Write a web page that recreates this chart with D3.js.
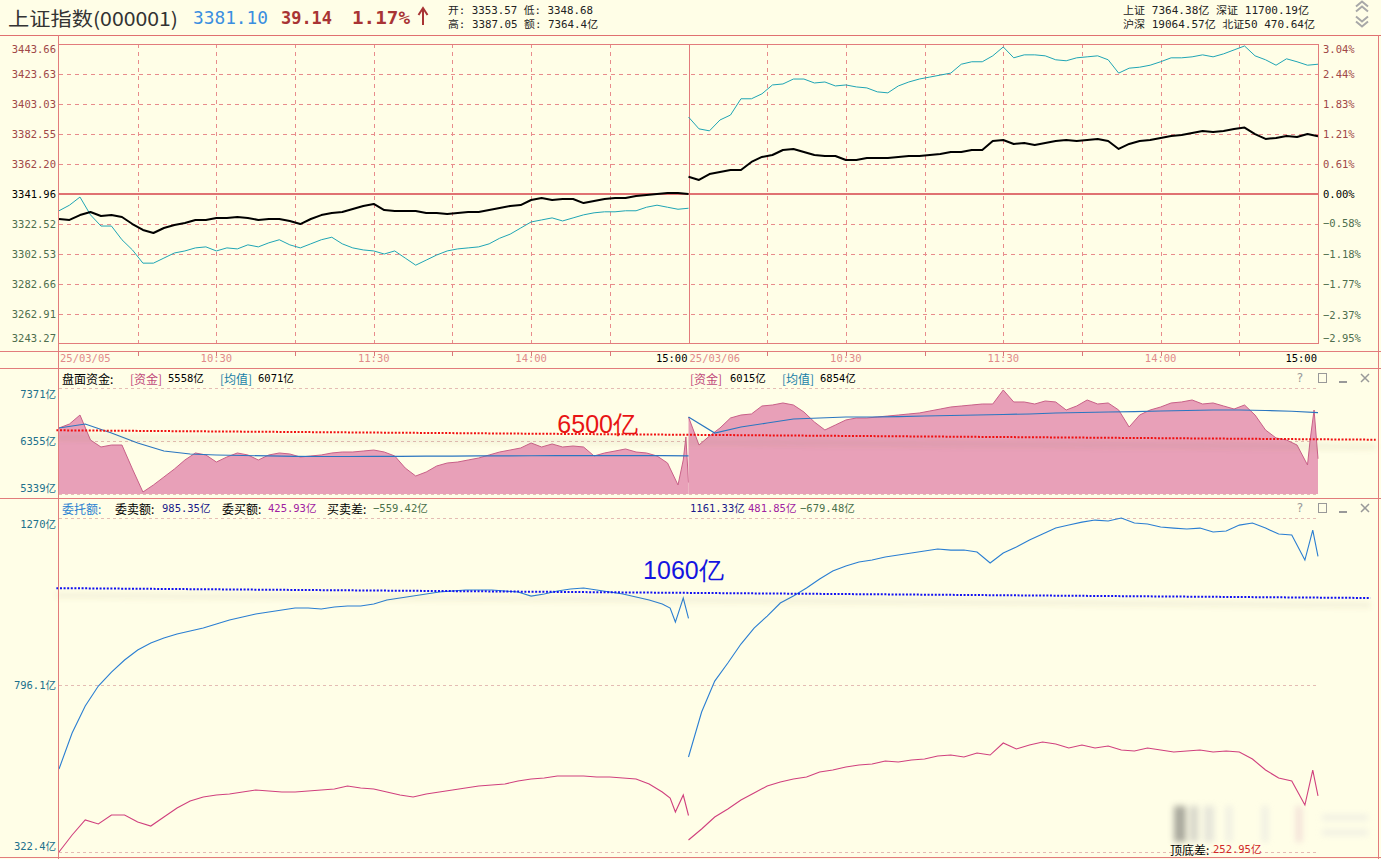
<!DOCTYPE html>
<html><head><meta charset="utf-8">
<script src="https://cdn.jsdelivr.net/npm/d3@7"></script>
<style>html,body{margin:0;padding:0;background:#FFFEE7;} svg{display:block}</style>
</head><body>
<svg id="c" width="1381" height="859"></svg>
<script>
// ---------------- DATA ----------------
const dayLabels = ["25/03/05", "25/03/06"];
const timeLabels = ["10:30", "11:30", "14:00", "15:00"];
const prevClose = 3341.96;
const priceTicks = [3443.66, 3423.63, 3403.03, 3382.55, 3362.20, 3341.96, 3322.52, 3302.53, 3282.66, 3262.91, 3243.27];
const pctTicks = [3.04, 2.44, 1.83, 1.21, 0.61, 0.00, -0.58, -1.18, -1.77, -2.37, -2.95];
const fundTicks = [7371, 6355, 5339];
const orderTicks = [1270, 796.1, 322.4];

// index (black), 4-minute steps
const indexDay1 = [3325.5,3324.9,3328.1,3330.1,3327.5,3328.1,3326.8,3322.2,3318.3,3316.3,3319.6,3321.6,3322.9,3324.9,3324.9,3326.2,3326.2,3326.8,3326.2,3324.9,3325.5,3325.5,3324.2,3322.2,3325.5,3328.1,3329.5,3330.1,3332.1,3334.1,3335.4,3331.4,3330.8,3330.8,3330.8,3329.5,3329.5,3328.8,3329.5,3330.1,3330.1,3331.4,3332.7,3334.1,3334.7,3338.0,3339.3,3338.0,3338.7,3338.7,3336.0,3337.4,3338.7,3339.3,3339.3,3340.6,3341.3,3342.0,3342.6,3342.6,3342.0];
const indexDay2 = [3353.6,3351.5,3355.5,3356.9,3358.2,3358.2,3363.7,3367.1,3368.4,3371.8,3372.5,3370.4,3368.4,3367.7,3367.7,3365.0,3365.0,3366.4,3366.4,3366.4,3367.1,3367.7,3367.7,3368.4,3369.1,3370.4,3370.4,3371.8,3371.8,3377.9,3378.6,3375.9,3376.5,3375.2,3376.5,3377.9,3378.6,3377.9,3378.6,3379.3,3377.9,3372.5,3375.9,3377.9,3378.6,3380.0,3381.3,3382.0,3383.3,3384.7,3384.0,3384.7,3386.0,3387.0,3382.6,3379.3,3380.0,3381.3,3380.6,3382.6,3381.1];
// second line (cyan), % change, 4-minute steps
const pctLineDay1 = [-0.33,-0.22,-0.06,-0.41,-0.63,-0.63,-0.90,-1.10,-1.36,-1.36,-1.26,-1.16,-1.12,-1.06,-1.04,-1.12,-1.06,-1.08,-1.00,-1.04,-0.96,-0.90,-1.00,-1.06,-0.98,-0.90,-0.85,-0.98,-1.06,-1.10,-1.12,-1.18,-1.12,-1.26,-1.40,-1.30,-1.20,-1.12,-1.08,-1.06,-1.04,-0.98,-0.87,-0.79,-0.67,-0.55,-0.51,-0.47,-0.53,-0.47,-0.41,-0.37,-0.35,-0.35,-0.33,-0.33,-0.26,-0.22,-0.26,-0.30,-0.28];
const pctLineDay2 = [1.56,1.32,1.28,1.50,1.60,1.93,1.93,2.03,2.21,2.23,2.33,2.33,2.25,2.27,2.19,2.21,2.17,2.15,2.07,2.05,2.19,2.27,2.33,2.37,2.41,2.45,2.63,2.68,2.68,2.80,2.98,2.76,2.82,2.82,2.80,2.72,2.70,2.76,2.78,2.80,2.72,2.45,2.55,2.57,2.61,2.68,2.76,2.76,2.78,2.82,2.78,2.84,2.92,3.00,2.80,2.72,2.61,2.74,2.68,2.61,2.63];

// 盘面资金 (亿), 4-minute steps + closing minutes [minute, value]
const fundDay1 = [6604,6681,6853,6374,6240,6278,6278,5818,5377,5512,5665,5818,5991,6125,6087,5952,6048,6125,6087,5991,6087,6125,6106,6048,6068,6087,6125,6144,6144,6163,6182,6144,6068,5837,5684,5761,5876,5933,5952,5991,6029,6087,6144,6182,6221,6317,6240,6298,6240,6259,6240,6068,6125,6163,6202,6144,6125,6068,5933];
const fundTail1 = [[236,5512],[238,5991],[239,6432],[240,5558]];
const fundDay2 = [6815,6278,6451,6604,6796,6853,6873,7026,7045,7084,7045,6911,6719,6566,6662,6758,6796,6796,6815,6834,6853,6873,6892,6930,6968,7007,7026,7045,7064,7064,7333,7103,7103,7064,7122,7103,6949,7026,7141,7064,7084,6949,6623,6853,6949,7007,7084,7103,7141,7064,7084,7026,6968,7045,6853,6566,6413,6374,6278];
const fundTail2 = [[234,6087],[236,5895],[237,6374],[238.5,6949],[240,6015]];
// 均值, 10-minute steps
const fundAvgDay1 = [6604,6681,6508,6317,6163,6106,6087,6077,6068,6060,6058,6058,6060,6062,6064,6066,6068,6070,6072,6074,6075,6076,6075,6073,6071];
const fundAvgDay2 = [6815,6508,6623,6700,6777,6796,6815,6815,6824,6834,6844,6853,6863,6873,6892,6901,6911,6920,6930,6940,6949,6949,6940,6925,6900];

// 委卖额 / 委买额 (亿), 5-minute steps + closing minutes
const sellDay1 = [557.8,660.0,736.5,793.3,833.0,867.0,895.4,915.3,929.4,940.8,949.3,957.8,969.1,980.5,989.0,997.5,1003.2,1008.8,1014.5,1014.5,1011.7,1017.3,1020.2,1020.2,1025.9,1037.2,1042.9,1048.5,1054.2,1059.9,1062.7,1065.6,1065.6,1065.6,1062.7,1059.9,1048.5,1054.2,1062.7,1068.4,1071.2,1065.6,1059.9,1054.2,1045.7,1037.2,1025.9];
const sellTail1 = [[233,1014.5],[235,974.8],[238,1042.9],[240,985.35]];
const sellDay2 = [591.9,719.5,807.4,858.5,912.4,957.8,991.8,1028.7,1048.5,1071.2,1096.8,1119.5,1133.6,1145.0,1150.7,1159.2,1164.8,1170.5,1176.2,1181.9,1179.0,1179.0,1173.4,1142.2,1170.5,1187.5,1207.4,1224.4,1241.4,1249.9,1258.4,1264.1,1261.3,1269.8,1255.6,1252.8,1244.3,1241.4,1238.6,1241.4,1230.1,1232.9,1249.9,1255.6,1241.4,1224.4,1221.6];
const sellTail2 = [[235,1150.7],[238,1235.8],[240,1161.33]];
const buyDay1 = [322.4,370.6,413.2,401.8,427.4,427.4,407.5,396.1,421.7,447.2,467.1,478.4,484.1,486.9,492.6,498.3,495.4,492.6,492.6,495.4,498.3,501.1,509.6,503.9,501.1,492.6,484.1,478.4,486.9,492.6,498.3,503.9,509.6,512.4,515.3,523.8,529.5,532.3,538.0,538.0,538.0,535.1,535.1,532.3,529.5,515.3,492.6];
const buyTail1 = [[233,475.6],[235,435.9],[238,484.1],[240,425.93]];
const buyDay2 = [356.4,387.6,421.7,444.4,469.9,489.8,509.6,521.0,529.5,535.1,549.3,555.0,563.5,569.2,572.0,580.5,577.7,583.4,586.2,594.7,597.5,591.9,603.2,597.5,631.6,614.6,625.9,634.4,628.7,617.4,625.9,617.4,623.1,611.7,608.9,617.4,611.7,606.0,608.9,611.7,606.0,608.9,606.0,586.2,555.0,532.3,523.8];
const buyTail2 = [[235,455.7],[238,555.0],[240,481.85]];

// annotations (hand-drawn levels: start, end)
const redMark = {label: "6500亿", level: 6500, ends: [6560, 6380]};
const blueMark = {label: "1060亿", level: 1060, ends: [1071, 1043]};

// ---------------- DRAW ----------------
const MONO = "'DejaVu Sans Mono','Noto Sans CJK SC',monospace";
const CJK = "'Noto Sans CJK SC','DejaVu Sans',sans-serif";
const FRAME = "#E27C7C";
const svg = d3.select("#c");
const W = 1381, H = 859;

const x = d3.scaleLinear().domain([0, 480]).range([59, 1318]);
const yPrice = d3.scaleLinear().domain([3243.27, prevClose, 3443.66]).range([344, 194, 44]);
const yPct = d3.scaleLinear().domain([-2.95, 0, 3.04]).range([344, 194, 44]);
const yFund = d3.scaleLinear().domain([5339, 7371]).range([494, 388]);
const yOrd = d3.scaleLinear().domain([322.4, 1270]).range([852, 518]);

function seq(vals, step, day, tail) {
  const pts = vals.map((v, i) => [day * 240 + i * step, v]);
  (tail || []).forEach(([m, v]) => pts.push([day * 240 + m, v]));
  return pts;
}
function T(px, py, s, o = {}) {
  const t = svg.append("text").attr("x", px).attr("y", py).text(s)
    .attr("font-family", o.ff || MONO).attr("font-size", o.fs || 10.5)
    .attr("fill", o.c || "#000").attr("text-anchor", o.a || "start")
    .attr("dominant-baseline", "central");
  if (o.w) t.attr("textLength", o.w).attr("lengthAdjust", "spacingAndGlyphs");
  if (o.fw) t.attr("font-weight", o.fw);
  return t;
}
function hline(y, x1, x2, o = {}) {
  svg.append("line").attr("x1", x1).attr("x2", x2).attr("y1", y).attr("y2", y)
    .attr("stroke", o.c || FRAME).attr("stroke-width", o.w || 1)
    .attr("stroke-dasharray", o.d || null).attr("shape-rendering", "crispEdges");
}
function vline(xx, y1, y2, o = {}) {
  svg.append("line").attr("x1", xx).attr("x2", xx).attr("y1", y1).attr("y2", y2)
    .attr("stroke", o.c || FRAME).attr("stroke-width", o.w || 1)
    .attr("stroke-dasharray", o.d || null).attr("shape-rendering", "crispEdges");
}

const defs = svg.append("defs");
defs.append("filter").attr("id", "blur").attr("x", "-5%").attr("y", "-200%").attr("width", "110%").attr("height", "500%")
  .append("feGaussianBlur").attr("stdDeviation", 2.5);
defs.append("filter").attr("id", "blur2").attr("x", "-20%").attr("y", "-20%").attr("width", "140%").attr("height", "140%")
  .append("feGaussianBlur").attr("stdDeviation", 3);

svg.append("rect").attr("width", W).attr("height", H).attr("fill", "#FFFEE7");

// ---------- header ----------
T(8, 17, "上证指数(000001)", {ff: CJK, fs: 19, c: "#333", w: 170});
T(193, 17, "3381.10", {fs: 18, c: "#3A8EE0", w: 75});
T(281, 17, "39.14", {fs: 18, c: "#A83434", w: 51, fw: "bold"});
T(352, 17, "1.17%", {fs: 18, c: "#A83434", w: 58, fw: "bold"});
svg.append("path").attr("d", "M423,25 L423,10 M418.5,15 L423,8 L427.5,15").attr("stroke", "#A83434")
  .attr("stroke-width", 2).attr("fill", "none");
T(448, 10, "开: 3353.57  低: 3348.68", {fs: 10.5, c: "#222", w: 145});
T(448, 24, "高: 3387.05  额: 7364.4亿", {fs: 10.5, c: "#222", w: 150});
T(1123, 10, "上证 7364.38亿  深证 11700.19亿", {fs: 10.5, c: "#222", w: 186});
T(1123, 24, "沪深 19064.57亿  北证50 470.64亿", {fs: 10.5, c: "#222", w: 192});
// scroll chevrons
[[4, -1], [9, -1], [19, 1], [24, 1]].forEach(([cy, dir]) => {
  svg.append("path").attr("d", `M1356,${cy - dir * 2.5} L1362,${cy + dir * 2.5} L1368,${cy - dir * 2.5}`)
    .attr("stroke", "#A8A8A8").attr("stroke-width", 2).attr("fill", "none");
});

// ---------- top panel ----------
const topTop = yPrice(priceTicks[0]), topBot = yPrice(priceTicks[priceTicks.length - 1]);
priceTicks.slice(1, -1).forEach(v => {
  if (v !== prevClose) hline(Math.round(yPrice(v)) + 0.5, x(0), x(480), {c: "#E88C8C", d: "4,4"});
});
d3.range(30, 480, 30).forEach(m => {
  if (m !== 240) vline(Math.round(x(m)) + 0.5, topTop, topBot, {c: "#E88C8C", d: "4,4"});
});
vline(Math.round(x(240)) + 0.5, topTop, topBot);
hline(yPrice(prevClose), x(0), x(480), {w: 2, c: "#E07272"});

const lineP = d3.line().x(d => x(d[0])).y(d => yPrice(d[1]));
const lineC = d3.line().x(d => x(d[0])).y(d => yPct(d[1]));
[pctLineDay1, pctLineDay2].forEach((arr, i) => {
  svg.append("path").attr("d", lineC(seq(arr, 4, i))).attr("fill", "none")
    .attr("stroke", "#1FA5B5").attr("stroke-width", 1);
});
[indexDay1, indexDay2].forEach((arr, i) => {
  svg.append("path").attr("d", lineP(seq(arr, 4, i))).attr("fill", "none")
    .attr("stroke", "#000").attr("stroke-width", 2).attr("stroke-linejoin", "round");
});
svg.append("rect").attr("x", x(0) - 0.5).attr("y", topTop + 0.5).attr("width", x(480) - x(0) + 1).attr("height", topBot - topTop - 1)
  .attr("fill", "none").attr("stroke", FRAME).attr("shape-rendering", "crispEdges");

priceTicks.forEach((v, i) => {
  const yy = Math.min(Math.max(yPrice(v), topTop + 5), topBot - 6);
  const c = v > prevClose ? "#A04848" : (v < prevClose ? "#4E6E4E" : "#000");
  T(56, yy, v.toFixed(2), {a: "end", c});
});
pctTicks.forEach(v => {
  const yy = Math.min(Math.max(yPct(v), topTop + 5), topBot - 6);
  const c = v > 0 ? "#A04848" : (v < 0 ? "#4E6E4E" : "#000");
  T(1323, yy, (v < 0 ? "−" + Math.abs(v).toFixed(2) : v.toFixed(2)) + "%", {c});
});

// ---------- time axis ----------
hline(35.5, 0, W, {c: "#E07070"});
hline(351.5, 0, W);
d3.range(30, 481, 30).forEach(m => {
  if (m % 240 !== 0) vline(Math.round(x(m)) + 0.5, 351, 356, {c: "#D87878"});
});
dayLabels.forEach((d, i) => {
  T(x(i * 240) + 1, 358, d, {c: "#E08A8A"});
  timeLabels.forEach((t, j) => {
    const m = i * 240 + 60 * (j + 1);
    if (j === 3) T(x(m) - 1, 358, t, {a: "end", c: "#000"});
    else T(x(m), 358, t, {a: "middle", c: "#E08A8A"});
  });
});
hline(368.5, 0, W);

// ---------- middle panel ----------
fundTicks.forEach(v => hline(Math.round(yFund(v)) + 0.5, x(0), x(480), {c: "#E4BCB4", d: "3,3"}));
const areaF = d3.area().x(d => x(d[0])).y0(yFund(5339)).y1(d => yFund(d[1]));
const lineF = d3.line().x(d => x(d[0])).y(d => yFund(d[1]));
[[fundDay1, fundTail1], [fundDay2, fundTail2]].forEach(([arr, tail], i) => {
  const pts = seq(arr, 4, i, tail);
  svg.append("path").attr("d", areaF(pts)).attr("fill", "#E8A0B8");
  svg.append("path").attr("d", lineF(pts)).attr("fill", "none").attr("stroke", "#C86088").attr("stroke-width", 1);
});
[fundAvgDay1, fundAvgDay2].forEach((arr, i) => {
  svg.append("path").attr("d", lineF(seq(arr, 10, i))).attr("fill", "none")
    .attr("stroke", "#2A76C0").attr("stroke-width", 1.2);
});
fundTicks.forEach((v, i) => {
  const yy = i === 0 ? yFund(v) + 6 : (i === 2 ? yFund(v) - 6 : yFund(v));
  T(56, yy, v + "亿", {a: "end", c: "#20708C"});
});
T(62, 378, "盘面资金:", {ff: CJK, fs: 12});
T(130, 378, "[资金]", {ff: CJK, fs: 12, c: "#C0487A"});
T(168, 378, "5558亿", {fs: 10.5});
T(220, 378, "[均值]", {ff: CJK, fs: 12, c: "#1A7FA8"});
T(258, 378, "6071亿", {fs: 10.5});
T(690, 378, "[资金]", {ff: CJK, fs: 12, c: "#C0487A"});
T(730, 378, "6015亿", {fs: 10.5});
T(782, 378, "[均值]", {ff: CJK, fs: 12, c: "#1A7FA8"});
T(820, 378, "6854亿", {fs: 10.5});

// window icons
function icons(cy) {
  T(1300, cy, "?", {ff: "'DejaVu Sans',sans-serif", fs: 12, c: "#999", a: "middle"});
  svg.append("rect").attr("x", 1318.5).attr("y", cy - 4.5).attr("width", 8).attr("height", 9).attr("fill", "none").attr("stroke", "#999");
  hline(cy + 3.5, 1339, 1347, {c: "#999", w: 2});
  svg.append("path").attr("d", `M1361,${cy - 4} L1369,${cy + 4} M1369,${cy - 4} L1361,${cy + 4}`).attr("stroke", "#999").attr("stroke-width", 1.5);
}
icons(378);

// red annotation
const redPts = [[-1, redMark.ends[0]], [502, redMark.ends[1]]];
svg.append("path").attr("d", d3.line().x(d => x(d[0])).y(d => yFund(d[1]) + 7)(redPts))
  .attr("stroke", "#7A6A40").attr("stroke-opacity", 0.09).attr("stroke-width", 6).attr("filter", "url(#blur)");
svg.append("path").attr("d", d3.line().x(d => x(d[0])).y(d => yFund(d[1]))(redPts))
  .attr("stroke", "#F01010").attr("stroke-width", 2).attr("stroke-dasharray", "2,1.6");
T(x(190), yFund(redMark.level) - 9, redMark.label, {ff: "'Liberation Sans',Arial,sans-serif", fs: 25, c: "#E81414"});

hline(498.5, 0, W);

// ---------- bottom panel ----------
orderTicks.forEach(v => hline(Math.round(yOrd(v)) + 0.5, x(0), x(480), {c: "#E4BCB4", d: "3,3"}));
const lineO = d3.line().x(d => x(d[0])).y(d => yOrd(d[1]));
[[sellDay1, sellTail1], [sellDay2, sellTail2]].forEach(([arr, tail], i) => {
  svg.append("path").attr("d", lineO(seq(arr, 5, i, tail))).attr("fill", "none").attr("stroke", "#2A7ED2").attr("stroke-width", 1.1);
});
[[buyDay1, buyTail1], [buyDay2, buyTail2]].forEach(([arr, tail], i) => {
  svg.append("path").attr("d", lineO(seq(arr, 5, i, tail))).attr("fill", "none").attr("stroke", "#D0407E").attr("stroke-width", 1.1);
});
orderTicks.forEach((v, i) => {
  const yy = i === 0 ? yOrd(v) + 6 : (i === 2 ? yOrd(v) - 6 : yOrd(v));
  T(56, yy, v + "亿", {a: "end", c: "#20708C"});
});
T(62, 508, "委托额:", {ff: CJK, fs: 12, c: "#2A7FD0"});
T(115, 508, "委卖额:", {ff: CJK, fs: 12});
T(162, 508, "985.35亿", {fs: 10.5, c: "#1A1A8A"});
T(222, 508, "委买额:", {ff: CJK, fs: 12});
T(268, 508, "425.93亿", {fs: 10.5, c: "#A020A0"});
T(327, 508, "买卖差:", {ff: CJK, fs: 12});
T(373, 508, "−559.42亿", {fs: 10.5, c: "#4A704A"});
T(690, 508, "1161.33亿", {fs: 10.5, c: "#1A1A8A"});
T(748, 508, "481.85亿", {fs: 10.5, c: "#A020A0"});
T(800, 508, "−679.48亿", {fs: 10.5, c: "#4A704A"});
icons(508);

const bluePts = [[-1, blueMark.ends[0]], [500, blueMark.ends[1]]];
svg.append("path").attr("d", d3.line().x(d => x(d[0])).y(d => yOrd(d[1]) + 7)(bluePts))
  .attr("stroke", "#7A6A40").attr("stroke-opacity", 0.08).attr("stroke-width", 6).attr("filter", "url(#blur)");
svg.append("path").attr("d", d3.line().x(d => x(d[0])).y(d => yOrd(d[1]))(bluePts))
  .attr("stroke", "#1010F0").attr("stroke-width", 2).attr("stroke-dasharray", "2,1.6");
T(x(222.7), yOrd(blueMark.level) - 22, blueMark.label, {ff: "'Liberation Sans',Arial,sans-serif", fs: 25, c: "#1414E0"});

// watermark (blurred)
const wm = svg.append("g").attr("filter", "url(#blur2)").attr("opacity", 0.5);
[[1174, 12, "#555"], [1190, 8, "#aaa"], [1204, 10, "#ccc"], [1226, 6, "#ddd"], [1262, 6, "#ddd"], [1296, 6, "#e6c0c8"]].forEach(([rx, rw, c]) => {
  wm.append("rect").attr("x", rx).attr("y", 806).attr("width", rw).attr("height", 36).attr("fill", c);
});
[[815], [830]].forEach(([ry]) => wm.append("rect").attr("x", 1322).attr("y", ry).attr("width", 46).attr("height", 5).attr("fill", "#ddd"));
T(1170, 849, "顶底差:", {ff: CJK, fs: 12});
T(1213, 849, "252.95亿", {fs: 10.5, c: "#D02828"});

hline(857.5, 0, W);
vline(58.5, 35, H);
vline(1378.5, 35, H);
</script>
</body></html>
